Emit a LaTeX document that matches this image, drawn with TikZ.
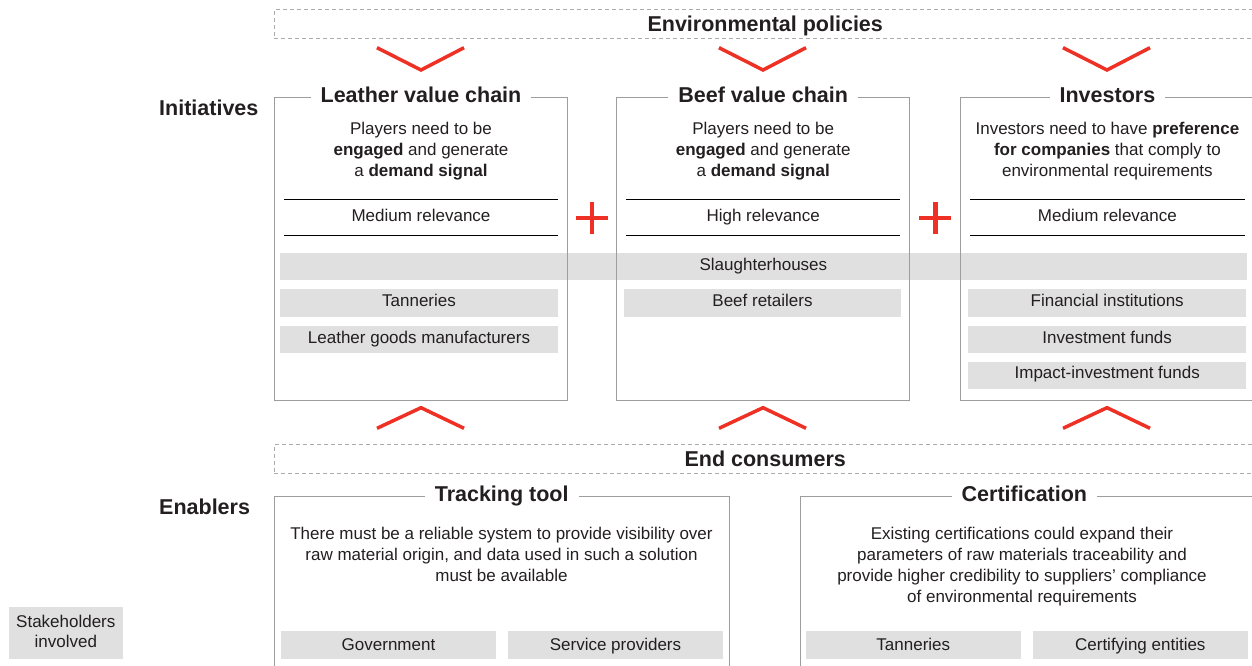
\documentclass[tikz,border=0pt]{standalone}
\usepackage{fontspec}
\setmainfont{Liberation Sans}
\usepackage{tikz}
\usetikzlibrary{positioning,calc}
\definecolor{txt}{HTML}{231F20}
\definecolor{framegray}{HTML}{9D9D9D}
\definecolor{dashgray}{HTML}{ABABAB}
\definecolor{boxgray}{HTML}{DFE0DF}
\definecolor{alertred}{HTML}{EE3124}

\begin{document}
\begin{tikzpicture}[x=1pt,y=-1pt,
  every node/.style={text=txt, font=\fontsize{17}{21}\selectfont},
  head/.style={font=\fontsize{21.5}{25}\selectfont\bfseries, text height=15.4pt, text depth=0pt, inner sep=0pt},
  title/.style={head, fill=white, inner xsep=10pt},
  frame/.style={draw=framegray, line width=1pt, inner sep=0pt},
  lane/.style={head, draw=dashgray, dash pattern=on 4pt off 3pt, line width=0.9pt},
  chip/.style={fill=boxgray, inner sep=0pt, minimum height=27.4pt, text height=12.2pt, text depth=5pt},
  lowchip/.style={chip, text depth=0pt},
  body/.style={align=center, anchor=north, inner sep=0pt},
  rel/.style={inner sep=0pt, text height=12.2pt, text depth=0pt},
  rule/.style={line width=1.1pt, black},
  chevron/.style={draw=alertred, line width=3.5pt},
  plus/.style={draw=alertred, line width=4.5pt}
]
  \useasboundingbox (0,0) rectangle (1252,665);
  \clip (0,0) rectangle (1252,665);

  \node[lane, minimum width=982pt, minimum height=29.3pt] (policies) at (765.2,24.2) {Environmental policies};
  \node[lane, minimum width=982pt, minimum height=29pt] (consumers) at (765.2,459.2) {End consumers};

  \foreach \x in {421,763,1107} {
    \draw[chevron] (\x-44,47.7) -- (\x,70) -- (\x+43,47.7);
    \draw[chevron] (\x-44,428.3) -- (\x,407.7) -- (\x+43,428.3);
  }

  \node[chip, minimum width=966.7pt] (slaughter) at (763.4,266.7) {Slaughterhouses};

  \node[frame, minimum width=293.4pt, minimum height=302.3pt] (leather) at (421,248.9) {};
  \node[frame, minimum width=293.4pt, minimum height=302.3pt] (beef) at (763.2,248.9) {};
  \node[frame, minimum width=293.4pt, minimum height=302.3pt] (investors) at (1107.4,248.9) {};
  \node[frame, minimum width=454.7pt, minimum height=183.3pt] (tracking) at (501.7,588.4) {};
  \node[frame, minimum width=455.3pt, minimum height=183.3pt] (certification) at (1028.4,588.4) {};

  \node[title] at ([yshift=2pt]leather.north) {Leather value chain};
  \node[title] at ([yshift=2pt]beef.north) {Beef value chain};
  \node[title] at ([yshift=2pt]investors.north) {Investors};
  \node[title] at ([yshift=2pt]tracking.north) {Tracking tool};
  \node[title] at ([xshift=-4pt,yshift=2pt]certification.north) {Certification};

  \node[head, anchor=west] (initiatives) at (159,108) {Initiatives};
  \node[head, anchor=west] (enablers) at (159,507) {Enablers};

  \node[body] (leathertxt) at (421,121.5) {Players need to be\\ \textbf{engaged} and generate\\ a \textbf{demand signal}};
  \node[body] (beeftxt) at (763.2,121.5) {Players need to be\\ \textbf{engaged} and generate\\ a \textbf{demand signal}};
  \node[body] (investorstxt) at (1107.4,121.5) {Investors need to have \textbf{preference}\\ \textbf{for companies} that comply to\\ environmental requirements};
  \node[body] (trackingtxt) at (501.5,526.5) {There must be a reliable system to provide visibility over\\ raw material origin, and data used in such a solution\\ must be available};
  \node[body] (certificationtxt) at (1022,526.5) {Existing certifications could expand their\\ parameters of raw materials traceability and\\ provide higher credibility to suppliers’ compliance\\ of environmental requirements};

  \foreach \f in {leather,beef,investors} {
    \draw[rule] ($(\f.north west)+(10,102.6)$) -- ($(\f.north east)+(-10,102.6)$);
    \draw[rule] ($(\f.north west)+(10,138.3)$) -- ($(\f.north east)+(-10,138.3)$);
  }
  \node[rel] at (421,215) {Medium relevance};
  \node[rel] at (763.2,215) {High relevance};
  \node[rel] at (1107.4,215) {Medium relevance};

  \foreach \x in {592,935.3}
    \draw[plus] (\x-16,218) -- (\x+16,218) (\x,202) -- (\x,234);

  \node[chip, minimum width=278pt] (tanneries) at (419,303) {Tanneries};
  \node[chip, minimum width=278pt, below=8.6pt of tanneries] (goods) {Leather goods manufacturers};
  \node[chip, minimum width=277pt] (retailers) at (762.5,303) {Beef retailers};
  \node[chip, minimum width=277.7pt] (financial) at (1107.2,303) {Financial institutions};
  \node[chip, minimum width=277.7pt, below=8.6pt of financial] (funds) {Investment funds};
  \node[chip, minimum width=277.7pt, below=8pt of funds] (impact) {Impact-investment funds};

  \node[lowchip, minimum width=215pt] (government) at (388.5,644.8) {Government};
  \node[lowchip, minimum width=215pt] (providers) at (615.5,644.8) {Service providers};
  \node[lowchip, minimum width=214.7pt] (tanneries2) at (913.3,644.8) {Tanneries};
  \node[lowchip, minimum width=215.3pt] (certifiers) at (1140.3,644.8) {Certifying entities};

  \node[fill=boxgray, inner sep=0pt, minimum width=113.7pt, minimum height=51.4pt,
    label={[align=center, font=\fontsize{17}{20}\selectfont, yshift=2pt]center:{Stakeholders\\ involved}}] (stakeholders) at (65.8,633) {};
\end{tikzpicture}
\end{document}
